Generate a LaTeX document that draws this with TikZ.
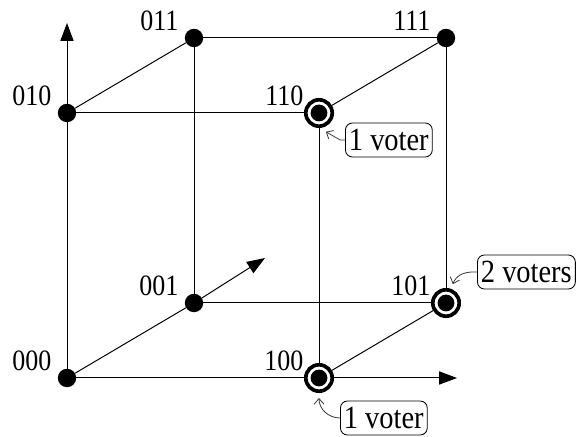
\documentclass[tikz,border=0pt]{standalone}
\usepackage{fontspec}
\setmainfont{Liberation Serif}[FakeStretch=0.88]
\usetikzlibrary{positioning,arrows.meta}

\tikzset{
  vertex/.style={circle, fill=black, inner sep=0pt, minimum size=0.46cm},
  voted/.style={circle, draw=black, line width=2.6pt, fill=white, inner sep=0pt, minimum size=0.66cm,
    path picture={\fill[black] (path picture bounding box.center) circle (0.21cm);}},
  vlab/.style={inner sep=0pt, font=\fontsize{21}{25}\selectfont},
  votebox/.style={draw, rounded corners=5pt, line width=0.6pt, inner xsep=2.5pt, inner ysep=0pt,
    minimum height=0.85cm, font=\fontsize{23}{27}\selectfont},
  cubeline/.style={line width=0.7pt},
  axis/.style={line width=0.7pt, -{Triangle[length=0.45cm,width=0.33cm]}},
  pointer/.style={line width=0.55pt, black!80, -{Straight Barb[length=4pt,width=7pt]}}
}

\begin{document}
\begin{tikzpicture}

\useasboundingbox (-1.675,-1.475) rectangle (12.725,9.45);

% Vertices of the cube
\node[vertex] (v000) at (0,0) {};
\node[voted]  (v100) at (6.3,0) {};
\node[vertex] (v010) at (0,6.625) {};
\node[voted]  (v110) at (6.3,6.625) {};
\node[vertex] (v001) at (3.175,1.875) {};
\node[voted]  (v101) at (9.475,1.875) {};
\node[vertex] (v011) at (3.175,8.5) {};
\node[vertex] (v111) at (9.475,8.5) {};

% Ends of the axes
\coordinate (xtip) at (9.75,0);
\coordinate (ytip) at (0,8.875);
\coordinate (ztip) at (4.95,3.0);

% Vertex labels
\node[vlab, above left=0.175cm and 0.385cm of v000.center] (l000) {000};
\node[vlab, above left=0.175cm and 0.385cm of v100.center] (l100) {100};
\node[vlab, above left=0.175cm and 0.385cm of v010.center] (l010) {010};
\node[vlab, above left=0.175cm and 0.385cm of v110.center] (l110) {110};
\node[vlab, above left=0.175cm and 0.385cm of v001.center] (l001) {001};
\node[vlab, above left=0.175cm and 0.385cm of v101.center] (l101) {101};
\node[vlab, above left=0.175cm and 0.385cm of v011.center] (l011) {011};
\node[vlab, above left=0.175cm and 0.385cm of v111.center] (l111) {111};

% Axes
\draw[cubeline] (v000) -- (v100);
\draw[axis] (v100) -- (xtip);
\draw[cubeline] (v000) -- (v010);
\draw[axis] (v010) -- (ytip);
\draw[cubeline] (v000) -- (v001);
\draw[axis] (v001) -- (ztip);

% Remaining edges
\draw[cubeline] (v100) -- (v110);
\draw[cubeline] (v010) -- (v110);
\draw[cubeline] (v010) -- (v011);
\draw[cubeline] (v110) -- (v111);
\draw[cubeline] (v011) -- (v111);
\draw[cubeline] (v001) -- (v101);
\draw[cubeline] (v001) -- (v011);
\draw[cubeline] (v100) -- (v101);
\draw[cubeline] (v101) -- (v111);

% Voter counts
\node[votebox, anchor=west] (c110) at (6.95,5.95) {1 voter};
\node[votebox, anchor=west] (c100) at (6.825,-1.0) {1 voter};
\node[votebox, anchor=west] (c101) at (10.25,2.65) {2 voters};

\draw[pointer] (c110.west) -- ++(-0.12,0) -- ([shift={(-70:0.5)}]v110.center);
\draw[pointer] (c100.west) to[out=180,in=-90] ([yshift=-0.5cm]v100.center);
\draw[pointer] (c101.west) -- ++(-0.1,0) to[out=180,in=70] ([shift={(70:0.5)}]v101.center);

\end{tikzpicture}
\end{document}
